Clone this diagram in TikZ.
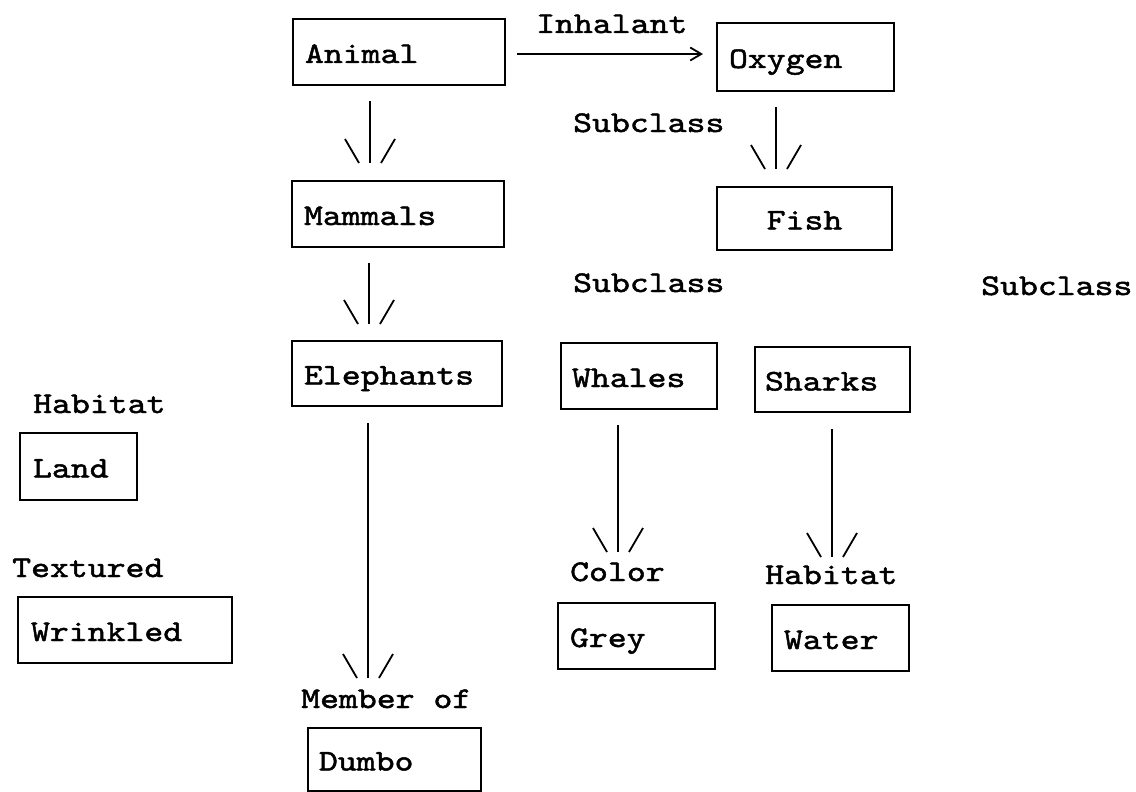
\documentclass[tikz,border=0pt]{standalone}
\usepackage{fontspec}
\usetikzlibrary{arrows.meta,calc,decorations.markings}
\newfontfamily\typewriter{lmmono10-regular.otf}[FakeStretch=1.2, FakeBold=1.6]

\begin{document}
\begin{tikzpicture}[x=1pt,y=-1pt,
  every node/.style={font=\typewriter\fontsize{30}{36}\selectfont},
  box/.style={draw, line width=2pt, inner ysep=0pt,
    text height=24pt, text depth=2pt, align=left},
  lbl/.style={inner sep=0pt, anchor=base west},
  link/.style={line width=1.8pt},
  isa/.style={link, postaction={decorate}, decoration={markings,
    mark=at position 1 with {\draw[link] (-24,25) -- (0,11) (-24,-25) -- (0,-11);}}},
  rel/.style={link, -{Straight Barb[length=11pt, width=13pt, line width=1.8pt]}}]

\useasboundingbox (0,0) rectangle (1136,792);

% concept boxes
\node[box, minimum width=212pt, minimum height=66pt, inner xsep=12pt, text width=188pt] (animal) at (399,52) {Animal};
\node[box, minimum width=212pt, minimum height=66pt, inner xsep=12pt, text width=188pt] (mammals) at (398,214) {Mammals};
\node[box, minimum width=210pt, minimum height=65pt, inner xsep=12pt, text width=186pt] (elephants) at (397,373.5) {Elephants};
\node[box, minimum width=177pt, minimum height=68pt, inner xsep=12pt, text width=153pt] (oxygen) at (805.5,57) {Oxygen};
\node[box, minimum width=175pt, minimum height=63pt, inner xsep=12pt, text width=151pt, align=center] (fish) at (804.5,218.5) {Fish};
\node[box, minimum width=156pt, minimum height=66pt, inner xsep=11pt, text width=134pt] (whales) at (639,376) {Whales};
\node[box, minimum width=155pt, minimum height=65pt, inner xsep=10pt, text width=135pt] (sharks) at (832.5,379.5) {Sharks};
\node[box, minimum width=117pt, minimum height=67pt, inner xsep=13pt, text width=91pt] (land) at (78.5,466.5) {Land};
\node[box, minimum width=214pt, minimum height=66pt, inner xsep=13pt, text width=188pt] (wrinkled) at (125,630) {Wrinkled};
\node[box, minimum width=157pt, minimum height=66pt, inner xsep=12pt, text width=133pt] (grey) at (636.5,636) {Grey};
\node[box, minimum width=137pt, minimum height=66pt, inner xsep=12pt, text width=113pt] (water) at (840.5,638) {Water};
\node[box, minimum width=173pt, minimum height=63pt, inner xsep=11pt, text width=151pt] (dumbo) at (394.5,759.5) {Dumbo};

% relation labels
\node[lbl] (inhalant) at (536,33) {Inhalant};
\node[lbl] (subA) at (573,132) {Subclass};
\node[lbl] (subB) at (573,292) {Subclass};
\node[lbl] (subC) at (981,295) {Subclass};
\node[lbl] (habitatL) at (33,413) {Habitat};
\node[lbl] (textured) at (12,577) {Textured};
\node[lbl] (color) at (570,581) {Color};
\node[lbl] (habitatR) at (765,584) {Habitat};
\node[lbl] (member) at (301,708) {Member of};

% connectors
\draw[rel] ($(animal.east)+(11,2)$) -- ($(animal.east -| oxygen.west)+(-13,2)$);
\draw[isa] ($(animal.south)+(-29,15)$) -- ($(mammals.north)+(-28,-17)$);
\draw[isa] ($(mammals.south)+(-29,15)$) -- ($(elephants.north)+(-28,-16)$);
\draw[isa] ($(elephants.south)+(-29,16)$) -- ($(dumbo.north)+(-26.5,-49)$);
\draw[isa] ($(oxygen.south)+(-29.5,15)$) -- ($(fish.north)+(-28.5,-17)$);
\draw[isa] ($(whales.south)+(-21,15)$) -- ($(grey.north)+(-18.5,-50)$);
\draw[isa] ($(sharks.south)+(-0.5,16)$) -- ($(water.north)+(-8.5,-47)$);
\end{tikzpicture}
\end{document}
